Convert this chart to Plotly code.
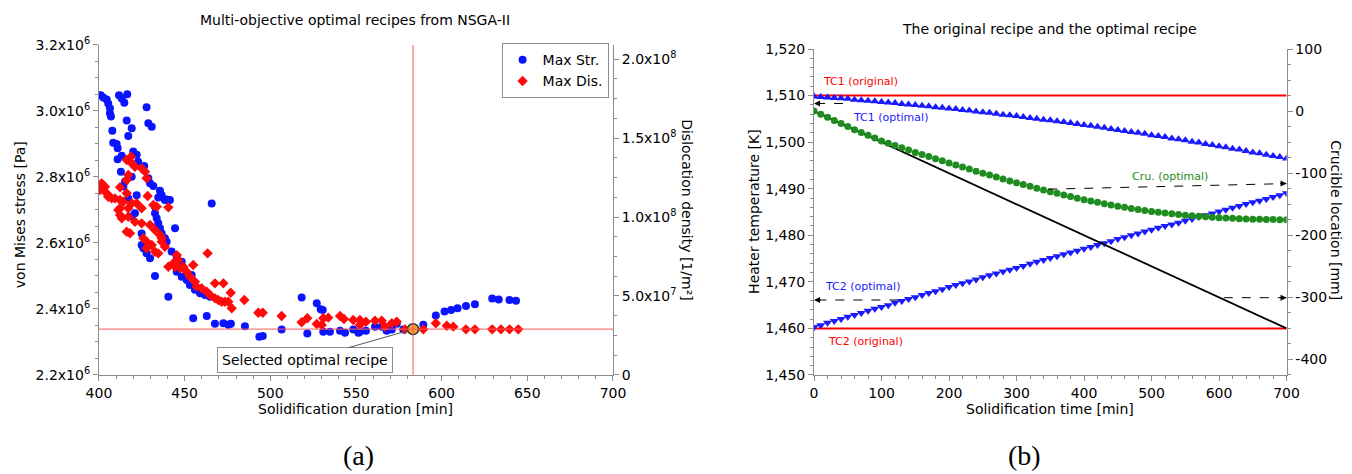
import plotly.graph_objects as go

# ---------------- Panel (a) data ----------------
blue_duration = [401, 402.5, 404.5, 405.4, 406.4, 406.4, 407, 411.7, 413.3, 414.8, 416.5, 427.8, 416.2,
                 428.8, 430.8, 407.8, 419.1, 417.1, 408.3, 410.3, 410.9, 420, 422, 410.9, 413.3, 422.9,
                 426.4, 412.8, 419.1, 415.2, 414.2, 428.8, 429.8, 431.7, 435.6, 436.6, 439.5, 422, 417.1,
                 434.6, 432.7, 441.4, 438.5, 465.8, 432.7, 433.7, 434.6, 435.6, 419.1, 421, 444.4, 424.9,
                 436.6, 438.5, 439.5, 424.9, 425.9, 427.8, 429.8, 442.4, 445.4, 448.3, 446.3, 445.4, 448.3,
                 451.2, 454.1, 453.1, 456, 459, 461.9, 464.8, 432.7, 440.5, 455, 462.9, 467.7, 472.6,
                 475.5, 477, 485.2, 493.6, 495.6, 506.6, 518.3, 527.1, 529.4, 530.6, 521.6, 530.9, 534.8,
                 540.7, 543.6, 548.4, 552.3, 555.8, 551.4, 561.1, 565, 567.9, 570.9, 573.8, 577.6, 589.3,
                 596.6, 601.7, 605.5, 609.3, 614.2, 619.4, 629.5, 633.3, 639.6, 643.4]
blue_stress = [3.048, 3.041, 3.035, 3.023, 3.008, 2.993, 2.983, 3.048, 3.038, 3.025, 3.051, 3.011, 2.971,
               2.963, 2.952, 2.940, 2.948, 2.924, 2.904, 2.900, 2.887, 2.877, 2.867, 2.854, 2.864, 2.846,
               2.833, 2.816, 2.801, 2.786, 2.771, 2.796, 2.781, 2.773, 2.758, 2.745, 2.732, 2.745, 2.735,
               2.738, 2.710, 2.730, 2.730, 2.720, 2.690, 2.675, 2.660, 2.645, 2.680, 2.690, 2.645, 2.629,
               2.629, 2.614, 2.604, 2.594, 2.584, 2.569, 2.554, 2.574, 2.558, 2.543, 2.528, 2.513, 2.498,
               2.488, 2.503, 2.473, 2.458, 2.448, 2.442, 2.437, 2.500, 2.437, 2.372, 2.379, 2.355, 2.357,
               2.352, 2.355, 2.348, 2.316, 2.318, 2.338, 2.435, 2.417, 2.399, 2.397, 2.326, 2.331, 2.331,
               2.334, 2.328, 2.338, 2.331, 2.334, 2.328, 2.346, 2.346, 2.334, 2.338, 2.355, 2.338, 2.352,
               2.380, 2.392, 2.397, 2.402, 2.409, 2.414, 2.432, 2.429, 2.427, 2.425]  # x10^6 Pa

red_duration = [416.2, 419.1, 421, 418.7, 424.9, 426.9, 417.1, 416.2, 427.8, 401.6, 403.5, 400.6, 404.5,
                405.4, 407.4, 409.3, 412.3, 414.2, 412.3, 416.2, 428.4, 419.1, 431.7, 433.7, 412.3, 417.1,
                424.9, 440.5, 422, 411.3, 412.3, 413.3, 417.1, 421, 424.9, 429.8, 432.7, 435.6, 436.6,
                416.2, 418.1, 425.9, 427.8, 430.8, 432.7, 434.6, 438.5, 436.6, 427.8, 445.4, 446.3, 443.4,
                444.4, 447.3, 449.2, 451.2, 455, 453.1, 456, 457, 459.9, 462.9, 464.8, 467.7, 469.6, 440.5,
                463.4, 467.7, 472.6, 471.6, 473.5, 475.5, 477.5, 476.9, 484.8, 493, 495.6, 506.6, 518.3,
                521.6, 527.1, 530, 530.9, 533.8, 540.7, 543, 548.4, 552.3, 555.8, 552.3, 561.1, 565, 566.9,
                570.9, 573.8, 578.6, 589.3, 596.6, 603, 606.8, 614.2, 619.4, 629.5, 634.6, 639.6, 644.7]
red_dislocation = [13.61, 13.40, 13.18, 13.82, 13.08, 12.87, 12.66, 12.34, 12.45, 12.13, 11.92, 11.71, 11.50,
                   11.28, 11.18, 11.18, 11.08, 10.97, 11.88, 11.50, 11.33, 10.87, 10.76, 10.65, 10.55, 10.55,
                   10.55, 10.61, 10.87, 10.44, 10.13, 9.92, 10.02, 9.70, 9.60, 9.49, 9.18, 8.86, 8.65,
                   9.07, 8.97, 8.65, 8.44, 8.23, 7.80, 7.70, 8.12, 8.44, 8.02, 7.59, 7.28, 7.07,
                   6.85, 6.75, 6.85, 6.54, 6.96, 6.22, 5.90, 5.59, 5.49, 5.27, 5.06, 4.85, 4.75, 6.85,
                   7.70, 5.80, 5.80, 4.64, 4.64, 4.64, 4.22, 5.21, 4.75, 3.94, 3.94, 3.73, 3.34,
                   3.59, 3.23, 3.16, 3.59, 3.63, 3.73, 3.54, 3.48, 3.48, 3.37, 3.16, 3.44, 3.44, 3.06,
                   3.27, 3.37, 2.89, 2.89, 3.27, 3.12, 3.06, 2.89, 2.89, 2.89, 2.89, 2.89, 2.89]  # x10^7 1/m2

selected_duration = 583.3
selected_stress = 2.339e6
selected_dislocation = 2.90e7

stress_ticks = [2.2e6, 2.4e6, 2.6e6, 2.8e6, 3.0e6, 3.2e6]
stress_labels = ["2.2x10<sup>6</sup>", "2.4x10<sup>6</sup>", "2.6x10<sup>6</sup>",
                 "2.8x10<sup>6</sup>", "3.0x10<sup>6</sup>", "3.2x10<sup>6</sup>"]
dis_ticks = [0, 5e7, 1e8, 1.5e8, 2e8]
dis_labels = ["0", "5.0x10<sup>7</sup>", "1.0x10<sup>8</sup>", "1.5x10<sup>8</sup>", "2.0x10<sup>8</sup>"]

# ---------------- Panel (b) data ----------------
time_min = list(range(0, 701, 10))
tc1_optimal = [1509.8, 1509.7, 1509.6, 1509.5, 1509.4, 1509.3, 1509.1, 1509.0, 1508.9, 1508.8, 1508.6,
               1508.5, 1508.4, 1508.2, 1508.1, 1508.0, 1507.8, 1507.7, 1507.5, 1507.4, 1507.2, 1507.1,
               1506.9, 1506.8, 1506.6, 1506.4, 1506.3, 1506.1, 1505.9, 1505.8, 1505.6, 1505.4, 1505.2,
               1505.0, 1504.8, 1504.7, 1504.5, 1504.3, 1504.1, 1503.9, 1503.7, 1503.5, 1503.3, 1503.1,
               1502.8, 1502.6, 1502.4, 1502.2, 1502.0, 1501.8, 1501.5, 1501.3, 1501.1, 1500.8, 1500.6,
               1500.4, 1500.1, 1499.9, 1499.6, 1499.4, 1499.1, 1498.9, 1498.6, 1498.4, 1498.1, 1497.8,
               1497.6, 1497.3, 1497.0, 1496.8, 1496.5]
tc2_optimal = [1460.3, 1460.7, 1461.2, 1461.6, 1462.0, 1462.5, 1462.9, 1463.3, 1463.8, 1464.2, 1464.6,
               1465.0, 1465.5, 1465.9, 1466.3, 1466.7, 1467.2, 1467.6, 1468.0, 1468.4, 1468.9, 1469.3,
               1469.7, 1470.1, 1470.5, 1471.0, 1471.4, 1471.8, 1472.2, 1472.6, 1473.0, 1473.4, 1473.9,
               1474.3, 1474.7, 1475.1, 1475.5, 1475.9, 1476.3, 1476.7, 1477.1, 1477.5, 1477.9, 1478.3,
               1478.7, 1479.2, 1479.6, 1480.0, 1480.4, 1480.8, 1481.2, 1481.6, 1482.0, 1482.3, 1482.7,
               1483.1, 1483.5, 1483.9, 1484.3, 1484.7, 1485.1, 1485.5, 1485.9, 1486.3, 1486.7, 1487.1,
               1487.4, 1487.8, 1488.2, 1488.6, 1489.0]
cru_optimal = [0.0, -5.0, -10.0, -15.0, -20.0, -25.0, -30.0, -34.5, -39.0, -43.5, -48.0, -51.7, -55.4,
               -59.1, -62.8, -66.5, -69.9, -73.3, -76.7, -80.1, -83.5, -86.8, -90.1, -93.4, -96.7, -100.0,
               -103.1, -106.2, -109.3, -112.4, -115.5, -118.4, -121.2, -124.1, -126.9, -129.8, -132.4,
               -135.0, -137.6, -140.2, -142.8, -144.9, -147.0, -149.1, -151.2, -153.3, -155.0, -156.7,
               -158.4, -160.1, -161.8, -163.0, -164.2, -165.4, -166.6, -167.8, -168.6, -169.4, -170.2,
               -171.0, -171.8, -172.3, -172.7, -173.2, -173.6, -174.0, -174.2, -174.4, -174.6, -174.8,
               -175.0]
orig_time = [0, 700]
tc1_original = [1510, 1510]
tc2_original = [1460, 1460]
cru_original = [0, -350]

temp_ticks = [1450, 1460, 1470, 1480, 1490, 1500, 1510, 1520]
cru_ticks = [-400, -300, -200, -100, 0, 100]
cru_labels = ["-400", "-300", "-200", "-100", "0", "100"]

FONT = "DejaVu Sans"
AX = "#8c8c8c"

fig = go.Figure()

# Panel (a)
fig.add_trace(go.Scatter(x=blue_duration, y=[v * 1e6 for v in blue_stress], mode="markers",
                         name="Max Str.", xaxis="x", yaxis="y",
                         marker=dict(symbol="circle", size=8, color="#0a14ff")))
fig.add_trace(go.Scatter(x=red_duration, y=[v * 1e7 for v in red_dislocation], mode="markers",
                         name="Max Dis.", xaxis="x", yaxis="y2",
                         marker=dict(symbol="diamond", size=8, color="#ff0a0a")))
fig.add_trace(go.Scatter(x=[selected_duration], y=[selected_dislocation], mode="markers",
                         showlegend=False, xaxis="x", yaxis="y2",
                         marker=dict(symbol="circle", size=11, color="#f0a030",
                                     line=dict(color="#333333", width=1.5))))

# Panel (b)
fig.add_trace(go.Scatter(x=orig_time, y=tc1_original, mode="lines", showlegend=False,
                         xaxis="x2", yaxis="y3", line=dict(color="#ff0000", width=2)))
fig.add_trace(go.Scatter(x=orig_time, y=tc2_original, mode="lines", showlegend=False,
                         xaxis="x2", yaxis="y3", line=dict(color="#ff0000", width=2)))
fig.add_trace(go.Scatter(x=time_min, y=tc1_optimal, mode="markers", showlegend=False,
                         xaxis="x2", yaxis="y3",
                         marker=dict(symbol="triangle-up", size=8, color="#1a1aff")))
fig.add_trace(go.Scatter(x=time_min, y=tc2_optimal, mode="markers", showlegend=False,
                         xaxis="x2", yaxis="y3",
                         marker=dict(symbol="triangle-down", size=8, color="#1a1aff")))
fig.add_trace(go.Scatter(x=orig_time, y=cru_original, mode="lines", showlegend=False,
                         xaxis="x2", yaxis="y4", line=dict(color="#000000", width=1.8)))
fig.add_trace(go.Scatter(x=time_min, y=cru_optimal, mode="markers", showlegend=False,
                         xaxis="x2", yaxis="y4",
                         marker=dict(symbol="circle", size=7, color="#1e8c1e")))

common_axis = dict(showline=True, linecolor=AX, linewidth=1, ticks="outside", tickcolor=AX,
                   ticklen=5, showgrid=False, zeroline=False,
                   tickfont=dict(family=FONT, size=14, color="#000"))

fig.update_layout(
    width=1352, height=474,
    margin=dict(l=0, r=0, t=0, b=0, autoexpand=False),
    paper_bgcolor="white", plot_bgcolor="white",
    font=dict(family=FONT, color="#000"),
    showlegend=True,
    legend=dict(x=0.371, y=0.909, xanchor="left", yanchor="top",
                bordercolor="#8c8c8c", borderwidth=1, bgcolor="white",
                font=dict(family=FONT, size=14), itemsizing="trace",
                tracegroupgap=0, itemwidth=30),
    xaxis=dict(common_axis, domain=[0.0732, 0.4534], range=[400, 700], anchor="y",
               tickvals=[400, 450, 500, 550, 600, 650, 700],
               minor=dict(dtick=10, ticklen=3, ticks="outside", tickcolor=AX)),
    yaxis=dict(common_axis, domain=[0.2089, 0.9051], range=[2.2e6, 3.2e6], anchor="x",
               tickvals=stress_ticks, ticktext=stress_labels,
               minor=dict(dtick=0.05e6, ticklen=3, ticks="outside", tickcolor=AX)),
    yaxis2=dict(common_axis, overlaying="y", side="right", anchor="x", range=[0, 2.089e8],
                tickvals=dis_ticks, ticktext=dis_labels,
                minor=dict(dtick=1.25e7, ticklen=3, ticks="outside", tickcolor=AX)),
    xaxis2=dict(common_axis, domain=[0.6021, 0.9516], range=[0, 700], anchor="y3",
                dtick=100, minor=dict(dtick=20, ticklen=3, ticks="outside", tickcolor=AX)),
    yaxis3=dict(common_axis, domain=[0.2089, 0.8966], range=[1450, 1520], anchor="x2",
                tickvals=temp_ticks, tickformat=",d",
                minor=dict(dtick=2, ticklen=3, ticks="outside", tickcolor=AX)),
    yaxis4=dict(common_axis, overlaying="y3", side="right", anchor="x2", range=[-425, 100],
                tickvals=cru_ticks, ticktext=cru_labels,
                minor=dict(dtick=25, ticklen=3, ticks="outside", tickcolor=AX)),
)

# Selection cross-hair
fig.add_shape(type="line", xref="x", yref="y domain", x0=selected_duration, x1=selected_duration,
              y0=0, y1=1, line=dict(color="#ff5a5a", width=1))
fig.add_shape(type="line", xref="x domain", yref="y", x0=0, x1=1, y0=selected_stress,
              y1=selected_stress, line=dict(color="#ff5a5a", width=1))

# Dashed arrows in panel (b)
arrows = [
    # (tail_t, tail_val, head_t, head_val, yaxis)
    (43, 1508.3, 0, 1508.3, "y3"),
    (125, 1466.1, 0, 1466.1, "y3"),
    (347, 1489.9, 700, 1491.1, "y3"),
    (607, 1466.6, 700, 1466.6, "y3"),
]
for t0, v0, t1, v1, ya in arrows:
    fig.add_shape(type="line", xref="x2", yref=ya, x0=t0, y0=v0, x1=t1, y1=v1,
                  line=dict(color="#000", width=1, dash="dash"))
    dx = 1 if t1 < t0 else -1
    fig.add_annotation(x=t1, y=v1, xref="x2", yref=ya, ax=8 * dx, ay=0, axref="pixel",
                       ayref="pixel", text="", showarrow=True, arrowhead=2, arrowsize=1.2,
                       arrowwidth=1, arrowcolor="#000")

ann = []
def txt(x, y, s, size=14, color="#000", xanchor="center", yanchor="middle", angle=0,
        family=FONT, xref="paper", yref="paper"):
    ann.append(dict(x=x, y=y, xref=xref, yref=yref, text=s, showarrow=False,
                    xanchor=xanchor, yanchor=yanchor, textangle=angle,
                    font=dict(family=family, size=size, color=color)))

txt(0.2623, 0.958, "Multi-objective optimal recipes from NSGA-II", size=14)
txt(0.7766, 0.939, "The original recipe and the optimal recipe", size=14)
txt(0.0148, 0.546, "von Mises stress [Pa]", size=14, angle=-90)
txt(0.508, 0.557, "Dislocation density [1/m²]", size=14, angle=90)
txt(0.2626, 0.137, "Solidification duration [min]", size=14)
txt(0.5577, 0.553, "Heater temperature [K]", size=14, angle=-90)
txt(0.988, 0.536, "Crucible location [mm]", size=14, angle=90)
txt(0.7766, 0.137, "Solidification time [min]", size=14)
txt(0.2648, 0.040, "(a)", size=28, family="Liberation Serif")
txt(0.758, 0.040, "(b)", size=28, family="Liberation Serif")

txt(10, 1513.1, "TC1 (original)", size=11, color="#ff0000", xanchor="left", xref="x2", yref="y3")
txt(55, 1505.4, "TC1 (optimal)", size=11, color="#1a1aff", xanchor="left", xref="x2", yref="y3")
txt(468, 1492.6, "Cru. (optimal)", size=11, color="#1e8c1e", xanchor="left", xref="x2", yref="y3")
txt(14, 1468.9, "TC2 (optimal)", size=11, color="#1a1aff", xanchor="left", xref="x2", yref="y3")
txt(17, 1457.1, "TC2 (original)", size=11, color="#ff0000", xanchor="left", xref="x2", yref="y3")
txt(704, 1469.8, "Cru. (original)", size=11, color="#000", xanchor="right", xref="x2", yref="y3")

for a in ann:
    fig.add_annotation(**a)

fig.add_annotation(x=selected_duration, y=selected_dislocation, xref="x", yref="y2",
                   text="Selected optimal recipe", showarrow=True, ax=-108, ay=31,
                   arrowhead=0, arrowwidth=1, arrowcolor="#555", standoff=5,
                   bordercolor="#8c8c8c", borderwidth=1, borderpad=4, bgcolor="white",
                   font=dict(family=FONT, size=14, color="#000"))

fig.write_html("out.html", config={"displayModeBar": False},
               post_script="document.body.style.margin='0';document.body.style.overflow='hidden';")
